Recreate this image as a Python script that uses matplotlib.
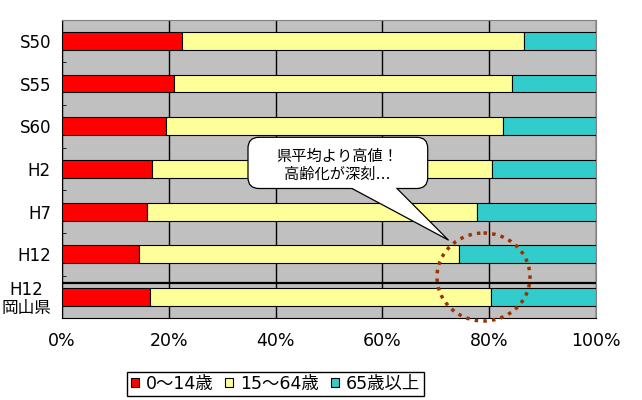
import numpy as np
import matplotlib
matplotlib.use('Agg')
import matplotlib.pyplot as plt
from matplotlib.patches import FancyBboxPatch, Polygon, Ellipse
from matplotlib.lines import Line2D
from matplotlib.transforms import Affine2D

plt.rcParams['font.family'] = ['DejaVu Sans', 'Noto Sans CJK JP']

# 年齢3区分別人口構成比 (%)
labels = ['S50', 'S55', 'S60', 'H2', 'H7', 'H12', 'H12\n岡山県']
age_0_14 = [22.4, 21.0, 19.4, 16.9, 15.9, 14.5, 16.5]
age_15_64 = [64.2, 63.3, 63.2, 63.7, 61.9, 59.9, 63.9]
age_65 = [13.4, 15.7, 17.4, 19.4, 22.2, 25.6, 19.6]
series_names = ['0～14歳', '15～64歳', '65歳以上']
colors = ['#FF0000', '#FFFF99', '#33CCCC']
xticks = [0, 20, 40, 60, 80, 100]

fig = plt.figure(figsize=(6.42, 4.0), dpi=100)
ax = fig.add_axes([62 / 642, 1 - 318.3 / 400, 534 / 642, 298.8 / 400])
ax.set_facecolor('#C0C0C0')

y = np.arange(len(labels))
left = np.zeros(len(labels))
for vals, name, c in zip([age_0_14, age_15_64, age_65], series_names, colors):
    ax.barh(y, vals, left=left, height=0.42, color=c, edgecolor='black',
            linewidth=0.8, label=name, zorder=3)
    left += np.array(vals)

ax.set_xlim(0, 100)
ax.set_ylim(len(labels) - 0.5, -0.5)
ax.set_axisbelow(True)
ax.xaxis.grid(True, color='black', linewidth=1)

# 岡山県との区切り線
ax.axhline(5.67, color='black', linewidth=1.6, zorder=4)

for s in ['left', 'bottom']:
    ax.spines[s].set_color('black')
for s in ['top', 'right']:
    ax.spines[s].set_color('#808080')

ax.set_xticks(xticks, labels=[f'{v}%' for v in xticks])
ax.tick_params(axis='x', length=0, pad=10, labelsize=12.5)
ax.set_yticks(y, labels=labels)
ax.tick_params(axis='y', length=0, pad=8, labelsize=12)
ax.set_yticks(np.arange(-0.5, len(labels), 1), minor=True)
ax.tick_params(axis='y', which='minor', direction='in', length=3, color='black')
for t in ax.get_yticklabels():
    t.set_multialignment('center')
    t.set_linespacing(1.0)

# 吹き出し (参照画像のピクセル座標)
px = Affine2D().scale(0.01, -0.01).translate(0, 4.0) + fig.dpi_scale_trans

box_top, box_bot = 137.3, 188.5
bubble = FancyBboxPatch((248, box_top), 179.7, box_bot - box_top,
                        boxstyle='round,pad=0,rounding_size=11',
                        transform=px, facecolor='white', edgecolor='black',
                        linewidth=0.9, zorder=5)
fig.add_artist(bubble)

tip = (448.3, 240.0)
base_l, base_r = 352.0, 397.0

def along(xb, yy):
    # 先端から底辺への直線を yy まで延長
    return tip[0] + (yy - tip[1]) * (xb - tip[0]) / (box_bot - tip[1])

tail = Polygon([(along(base_l, box_bot - 4), box_bot - 4), tip,
                (along(base_r, box_bot - 4), box_bot - 4)],
               closed=True, transform=px, facecolor='white',
               edgecolor='none', zorder=6)
fig.add_artist(tail)
fig.add_artist(Line2D([base_l, tip[0], base_r], [box_bot, tip[1], box_bot],
                      transform=px, color='black', linewidth=0.9, zorder=7))
fig.text(337.5, 165.5, '県平均より高値！\n高齢化が深刻…', transform=px,
         ha='center', va='center', fontsize=11, linespacing=1.25, zorder=8)

circle = Ellipse((483.5, 277), 93, 88, transform=px, fill=False,
                 edgecolor='#993300', linewidth=2.5, linestyle=(0, (1, 1.5)),
                 zorder=9)
fig.add_artist(circle)

leg = fig.legend(loc='center', bbox_to_anchor=(275.5 / 642, 1 - 384 / 400),
                 ncol=3, frameon=True, fancybox=False, edgecolor='black',
                 framealpha=1, handlelength=0.45, handleheight=0.45,
                 handletextpad=0.4, columnspacing=0.7, borderpad=0.2,
                 borderaxespad=0, fontsize=12.5)
leg.get_frame().set_linewidth(1.0)

fig.savefig('out.png', dpi=100)
